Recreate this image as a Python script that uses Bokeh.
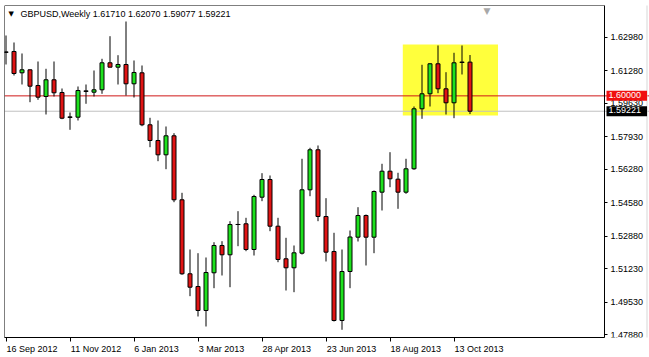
import pandas as pd
from bokeh.plotting import figure
from bokeh.models import (LinearAxis, FixedTicker, PrintfTickFormatter, Span, Label,
                          BoxAnnotation, ColumnDataSource, Range1d)
from bokeh.embed import file_html
from bokeh.resources import INLINE

# ---------------- data ----------------
symbol = "GBPUSD"
timeframe = "Weekly"
first_week = "2012-09-16"

opens = [1.62213, 1.62249, 1.61169, 1.61321, 1.60526, 1.59968, 1.60815, 1.60171, 1.58919, 1.58919,
         1.60237, 1.60186, 1.60308, 1.61676, 1.61453, 1.61590, 1.60612, 1.61169, 1.58534, 1.57738,
         1.57013, 1.57976, 1.54732, 1.50982, 1.50338, 1.49122, 1.51033, 1.52416, 1.51945, 1.53481,
         1.53516, 1.52213, 1.54864, 1.55761, 1.53394, 1.51742, 1.51286, 1.52026, 1.55239, 1.57267,
         1.53886, 1.52112, 1.48615, 1.51098, 1.52837, 1.53937, 1.52837, 1.55118, 1.56182, 1.55777,
         1.55118, 1.56304, 1.59345, 1.60105, 1.61626, 1.60358, 1.59649, 1.61700, 1.61710]
highs = [1.63060, 1.62705, 1.62148, 1.61337, 1.61742, 1.61372, 1.61742, 1.60374, 1.59157, 1.60475,
         1.60576, 1.61286, 1.61879, 1.63024, 1.62061, 1.63769, 1.61793, 1.61539, 1.58889, 1.58752,
         1.58448, 1.58108, 1.55087, 1.52213, 1.52026, 1.51808, 1.52583, 1.52634, 1.53648, 1.54155,
         1.53820, 1.54986, 1.56081, 1.55964, 1.53820, 1.52806, 1.52416, 1.56811, 1.57368, 1.57485,
         1.54814, 1.53060, 1.52213, 1.53176, 1.54357, 1.53987, 1.55204, 1.56557, 1.57145, 1.56101,
         1.56811, 1.59461, 1.61575, 1.61656, 1.62553, 1.61200, 1.62183, 1.62553, 1.62070]
lows = [1.61590, 1.61032, 1.60576, 1.59679, 1.59801, 1.59056, 1.59968, 1.58818, 1.58280, 1.58752,
        1.59598, 1.59968, 1.60105, 1.61453, 1.60576, 1.60019, 1.59917, 1.58463, 1.57398, 1.56689,
        1.56283, 1.54611, 1.50931, 1.49847, 1.48818, 1.48311, 1.50252, 1.50896, 1.50303, 1.52381,
        1.52127, 1.51909, 1.54662, 1.53141, 1.51570, 1.50135, 1.50049, 1.51960, 1.54915, 1.53648,
        1.51605, 1.48564, 1.48144, 1.50252, 1.52619, 1.51403, 1.52026, 1.54190, 1.55371, 1.54276,
        1.55037, 1.56253, 1.58838, 1.59461, 1.60135, 1.59056, 1.58868, 1.61083, 1.59077]
closes = [1.62213, 1.61134, 1.61321, 1.60490, 1.59933, 1.60815, 1.60156, 1.58868, 1.58919, 1.60272,
          1.60237, 1.60308, 1.61676, 1.61453, 1.61590, 1.60612, 1.61185, 1.58534, 1.57738, 1.57013,
          1.57976, 1.54732, 1.50982, 1.50303, 1.49122, 1.51048, 1.52416, 1.51945, 1.53481, 1.53481,
          1.52213, 1.54900, 1.55761, 1.53394, 1.51707, 1.51286, 1.52046, 1.55239, 1.57267, 1.53886,
          1.52077, 1.48615, 1.51098, 1.52847, 1.53937, 1.52837, 1.55153, 1.56182, 1.55797, 1.55118,
          1.56304, 1.59345, 1.60105, 1.61626, 1.60358, 1.59649, 1.61676, 1.61700, 1.59221]

date_tick_labels = ["16 Sep 2012", "11 Nov 2012", "6 Jan 2013", "3 Mar 2013",
                    "28 Apr 2013", "23 Jun 2013", "18 Aug 2013", "13 Oct 2013"]
price_ticks = [1.47880, 1.49530, 1.51230, 1.52880, 1.54580, 1.56280,
               1.57930, 1.59630, 1.61280, 1.62980]
level_price = 1.60000

# ---------------- derived ----------------
n = len(opens)
weeks = pd.date_range(first_week, periods=n, freq="7D")
idx = list(range(n))
tick_pos = [int((pd.to_datetime(s, format="%d %b %Y") - weeks[0]).days // 7) for s in date_tick_labels]

# labels sit to the right of their tick mark (MT4 style): shift label centres (in bars)
label_shift = [3.25, 3.25, 2.8125, 2.9375, 3.125, 3.1875, 3.25, 3.125]
label_centres = [t + s for t, s in zip(tick_pos, label_shift)]

BULL = "#1EE11E"
BEAR = "#E01414"

body_top = [max(o, c) for o, c in zip(opens, closes)]
body_bot = [min(o, c) for o, c in zip(opens, closes)]
colors = [BULL if c > o else BEAR for o, c in zip(opens, closes)]

src = ColumnDataSource(dict(x=idx, o=opens, h=highs, l=lows, c=closes,
                            top=body_top, bottom=body_bot, color=colors))
doji_i = [i for i in idx if opens[i] == closes[i]]
doji_src = ColumnDataSource(dict(x0=[i - 0.3 for i in doji_i], x1=[i + 0.3 for i in doji_i],
                                 y=[closes[i] for i in doji_i]))

FONT = "Liberation Sans"
FS = "9px"

# chart area (in bar / price units); the canvas extends past the chart to hold the price scale
X0, X_CHART_END, X_CANVAS_END = -0.1875, 74.8125, 80.4375
Y0, Y1 = 1.47753, 1.64580

p = figure(width=649, height=357, output_backend="svg", toolbar_location=None,
           x_range=Range1d(X0, X_CANVAS_END), y_range=Range1d(Y0, Y1),
           x_axis_location=None, y_axis_location=None,
           min_border_left=4, min_border_right=0, min_border_top=5, min_border_bottom=20,
           background_fill_color="white", border_fill_color="white")
p.grid.visible = False
p.outline_line_color = None

# highlight zone
p.add_layout(BoxAnnotation(left=49.6, right=61.5, bottom=1.59005, top=1.62604,
                           fill_color="#FFFF3C", fill_alpha=1, line_alpha=0, level="underlay"))
p.add_layout(Span(location=closes[-1], dimension="width", line_color="#C0C0C0",
                  line_width=1, level="underlay"))
p.add_layout(Span(location=level_price, dimension="width", line_color="#D01818",
                  line_width=1, level="underlay"))

# candles
p.segment(x0="x", y0="h", x1="x", y1="l", source=src, line_color="black", line_width=1)
p.vbar(x="x", width=0.5, top="top", bottom="bottom", fill_color="color",
       line_color="black", line_width=1, source=src)
p.segment(x0="x0", y0="y", x1="x1", y1="y", source=doji_src, line_color="black", line_width=1)

# chart frame
p.add_layout(BoxAnnotation(left=X0, right=X_CHART_END, bottom=Y0, top=Y1,
                           fill_alpha=0, line_color="black", line_width=1, line_alpha=1))

# window border (screen units, relative to the chart frame)
for (l, r, b, t, col) in [(-4, 645, 336, 337, "#A0A0A0"),      # top
                          (-4, -3, -16, 337, "#A0A0A0"),       # left
                          (-4, 645, -17, -16, "#D8D8D8"),      # bottom
                          (642, 643, -17, 337, "#D8D8D8")]:    # right
    p.add_layout(BoxAnnotation(left=l, right=r, bottom=b, top=t,
                               left_units="screen", right_units="screen",
                               bottom_units="screen", top_units="screen",
                               fill_color=col, fill_alpha=1, line_alpha=0))

# axes
xaxis = LinearAxis(ticker=FixedTicker(ticks=label_centres, minor_ticks=tick_pos),
                   major_label_overrides={c: s for c, s in zip(label_centres, date_tick_labels)},
                   bounds=(X0, X_CHART_END))
xaxis.major_tick_out = 0
xaxis.major_tick_in = 0
xaxis.minor_tick_out = 4
xaxis.minor_tick_in = 0
xaxis.minor_tick_line_color = "black"
xaxis.major_label_standoff = 2
xaxis.major_label_text_font = FONT
xaxis.major_label_text_font_size = FS
xaxis.major_label_text_color = "black"
xaxis.axis_line_color = "black"
p.add_layout(xaxis, "below")

yaxis = LinearAxis(ticker=FixedTicker(ticks=price_ticks, minor_ticks=[]),
                   formatter=PrintfTickFormatter(format="%.5f"),
                   fixed_location=X_CHART_END)
yaxis.major_tick_out = 3
yaxis.major_tick_in = 0
yaxis.minor_tick_out = 0
yaxis.major_label_standoff = 3
yaxis.major_label_text_font = FONT
yaxis.major_label_text_font_size = FS
yaxis.major_label_text_color = "black"
yaxis.axis_line_color = "black"
p.add_layout(yaxis, "right")

# price labels on the price scale
p.add_layout(Label(x=602, y=level_price, x_units="screen", y_units="data",
                   text="%.5f" % level_price, text_font=FONT, text_font_size=FS,
                   text_color="white", text_baseline="middle", text_align="left",
                   background_fill_color="#F01010", background_fill_alpha=1.0,
                   padding=(2, 6, 1, 3)))
p.add_layout(Label(x=602, y=closes[-1], x_units="screen", y_units="data",
                   text="%.5f" % closes[-1], text_font=FONT, text_font_size=FS,
                   text_color="white", text_baseline="middle", text_align="left",
                   background_fill_color="black", background_fill_alpha=1.0,
                   padding=(2, 6, 1, 3)))

# title line
p.add_layout(Label(x=4, y=324, x_units="screen", y_units="screen", text="▼",
                   text_font="DejaVu Sans", text_font_size="7px",
                   text_color="black", text_baseline="middle"))
p.add_layout(Label(x=16, y=324, x_units="screen", y_units="screen",
                   text="%s,%s  %.5f %.5f %.5f %.5f" % (symbol, timeframe, opens[-1], highs[-1], lows[-1], closes[-1]),
                   text_font=FONT, text_font_size=FS, text_color="black",
                   text_baseline="middle"))
# chart shift marker
p.add_layout(Label(x=479, y=327, x_units="screen", y_units="screen", text="▼",
                   text_font="DejaVu Sans", text_font_size="9px",
                   text_color="#A8A8A8", text_baseline="middle"))

open("out.html", "w").write(file_html(p, INLINE))
